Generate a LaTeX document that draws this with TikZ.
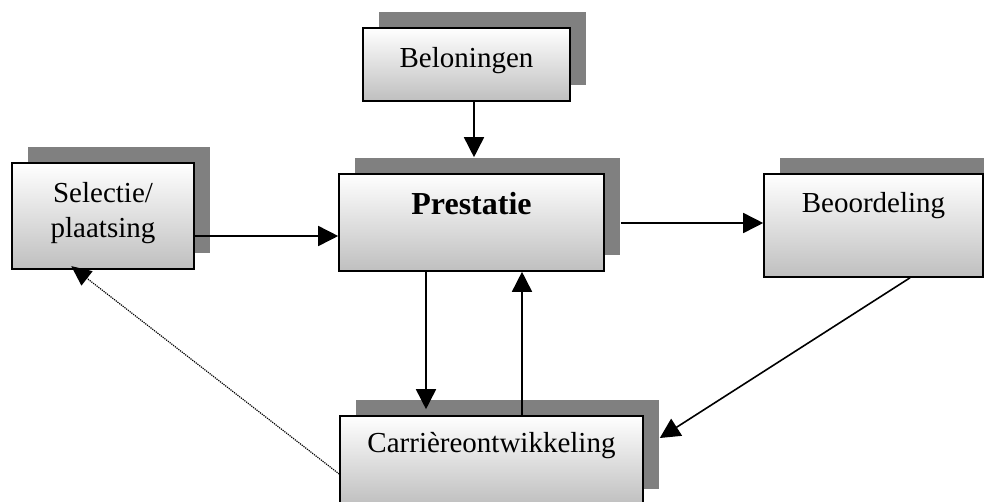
\documentclass[tikz,border=0pt]{standalone}
\usepackage{fontspec}
\setmainfont{Liberation Serif}
\usetikzlibrary{arrows.meta,shadows}

\begin{document}
\begin{tikzpicture}[x=1pt,y=-1pt,
        blok/.style={draw,line width=1.6pt,rectangle,inner sep=0pt,align=center,
                top color=white,bottom color=black!25,
                drop shadow={shadow xshift=16pt,shadow yshift=16pt,fill=black!50,opacity=1},
                font=\fontsize{29}{35}\selectfont},
        pijl/.style={line width=1.6pt,-{Triangle[length=20pt,width=20pt]}}]
        \useasboundingbox (0,0) rectangle (984,501);
        \node[blok,minimum width=207pt,minimum height=73pt,text height=39pt,text depth=34pt] (belon) at (466.5,64.5) {Beloningen};
        \node[blok,minimum width=182pt,minimum height=106pt,text height=74pt,text depth=32pt] (sel) at (103,216) {Selectie/\\plaatsing};
        \node[blok,minimum width=265pt,minimum height=97pt,text height=40pt,text depth=57pt,font=\fontsize{32}{38}\selectfont\bfseries] (prest) at (471.5,222.5) {Prestatie};
        \node[blok,minimum width=219pt,minimum height=103pt,text height=38pt,text depth=65pt] (beoord) at (873.5,225.5) {Beoordeling};
        \node[blok,minimum width=303pt,minimum height=89pt,text height=36pt,text depth=53pt] (carr) at (491.5,460.5) {Carrièreontwikkeling};
        \coordinate (carrsch) at ([xshift=16pt]carr.east);
        % pijlen
        \draw[pijl,shorten >=16pt] (belon.south -| 474,0) -- (prest.north -| 474,0);
        \draw[pijl] (sel.east |- 0,236) -- (prest.west |- 0,236);
        \draw[pijl,shorten <=16pt] (prest.east |- 0,223) -- (beoord.west |- 0,223);
        \draw[pijl,shorten >=6pt] (prest.south -| 426,0) -- (carr.north -| 426,0);
        \draw[pijl] (carr.north -| 522,0) -- (prest.south -| 522,0);
        \draw[pijl] (beoord.south -| 910,0) -- (carrsch |- 0,438);
        \draw[densely dotted,line width=1.2pt,-{Triangle[length=20pt,width=18pt]},shorten >=-6pt] (carr.west |- 0,474) -- (sel.south -| 76,0);
\end{tikzpicture}
\end{document}
